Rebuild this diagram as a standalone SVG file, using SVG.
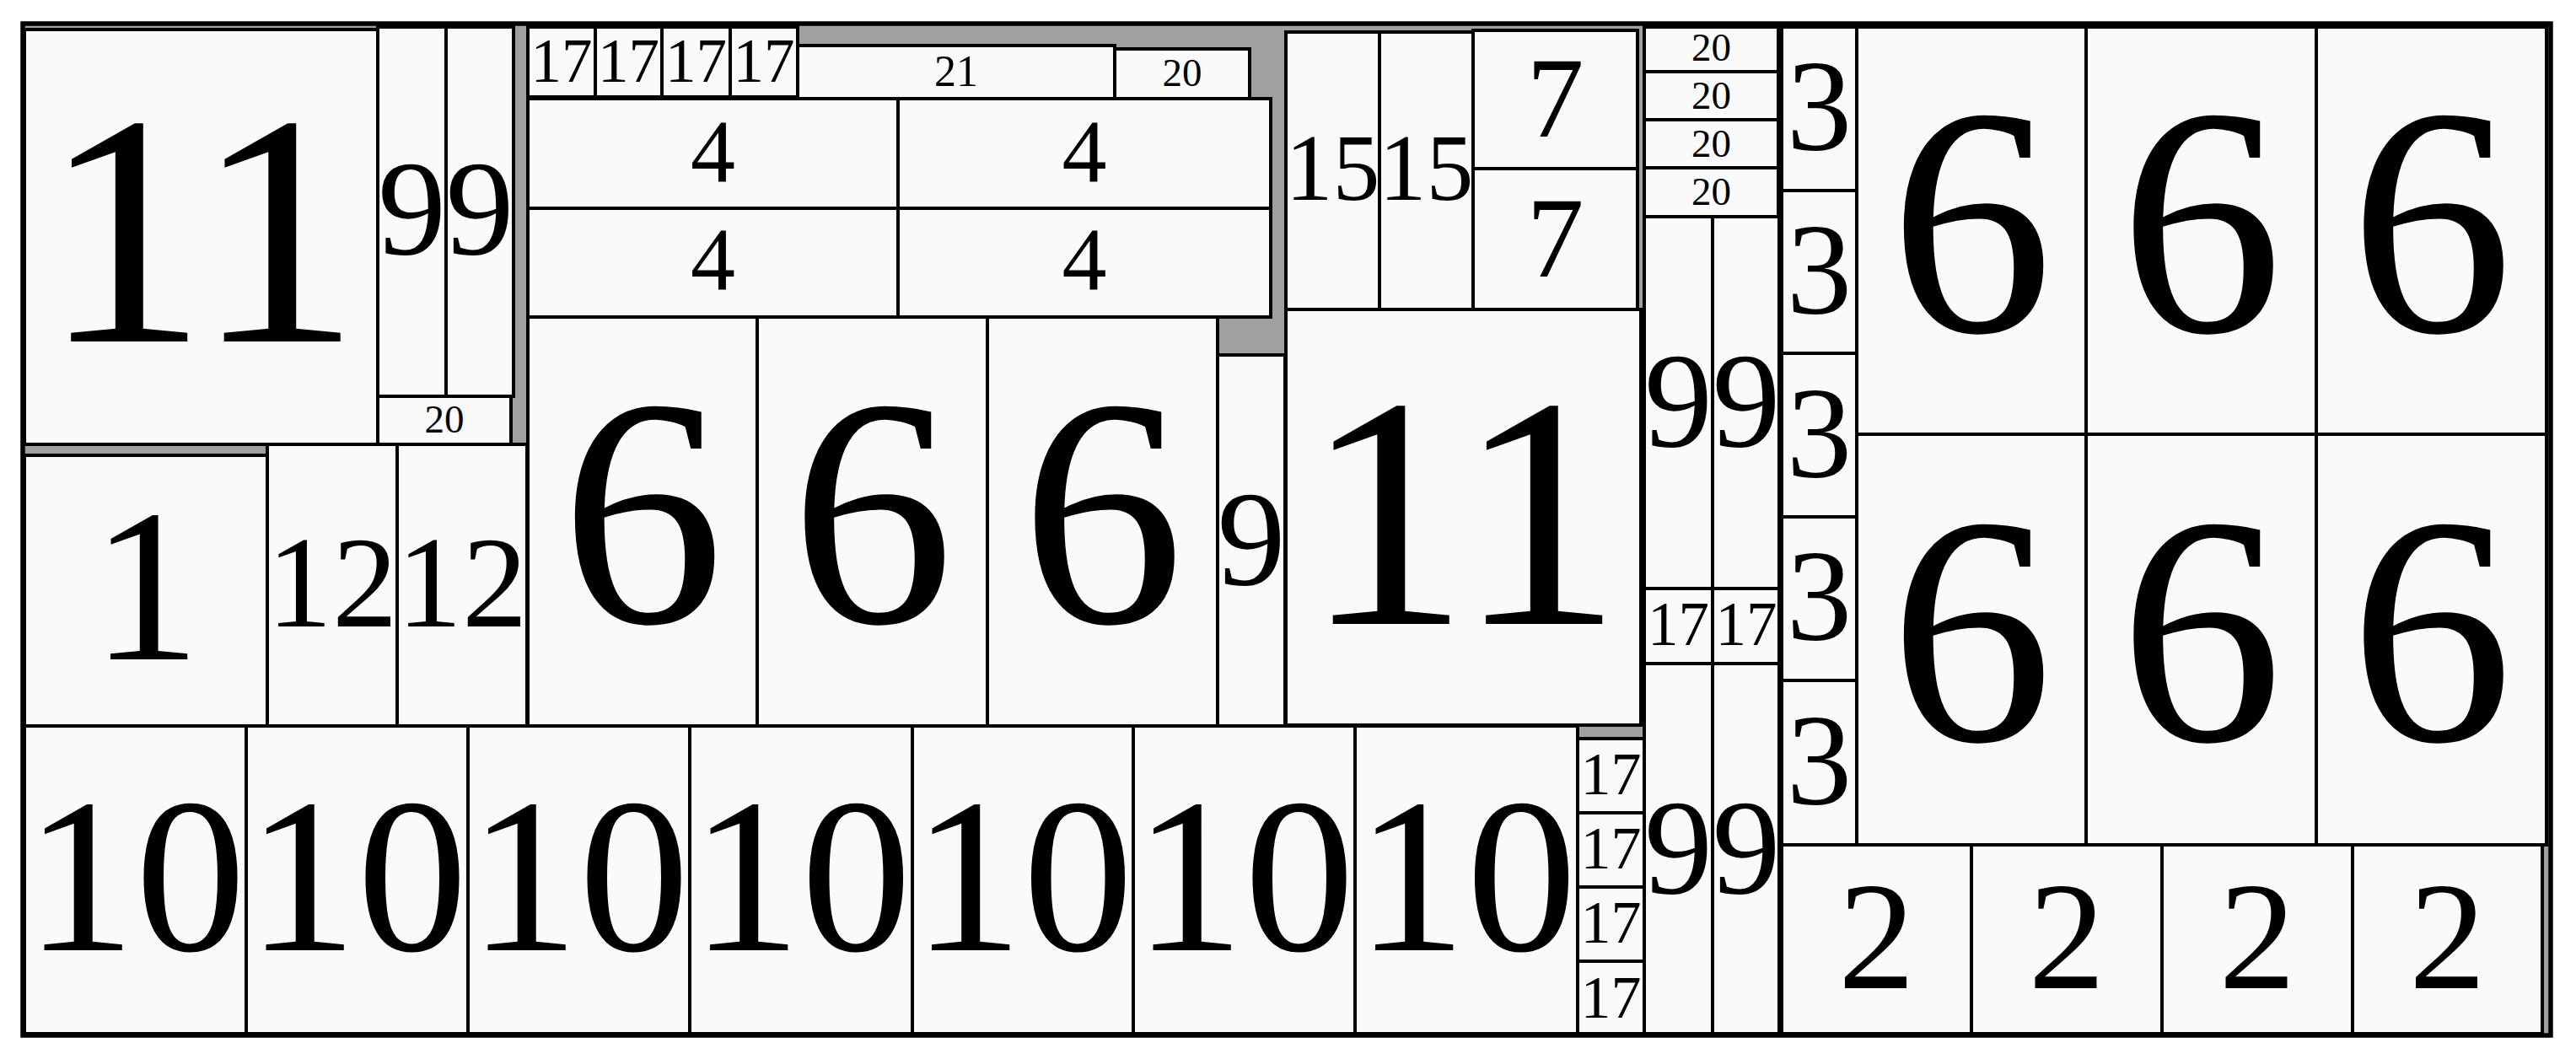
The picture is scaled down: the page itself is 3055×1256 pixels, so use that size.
<svg xmlns="http://www.w3.org/2000/svg" width="3055" height="1256" viewBox="0 0 3055 1256">
<style>
.n rect{fill:#fafafa;stroke:#000;stroke-width:4}
.n text{text-anchor:middle;fill:#000}
.bin{fill:#a0a0a0;stroke:#000;stroke-width:5}
</style>
<rect width="3055" height="1256" fill="#ffffff"/>
<rect id="bin" class="bin" x="27" y="28" width="2998" height="1200"/>
<g id="connectors"></g>
<g id="nodes" font-family="Liberation Serif, Times New Roman, Times, serif">
<g id="n11a" class="n"><rect x="29" y="35" width="419" height="492"/><text x="238.5" y="405" font-size="392">11</text></g>
<g id="n9a" class="n"><rect x="448" y="32" width="81" height="438"/><text x="488.5" y="301" font-size="162">9</text></g>
<g id="n9b" class="n"><rect x="529" y="32" width="80" height="438"/><text x="569" y="301" font-size="162">9</text></g>
<g id="n20a" class="n"><rect x="448" y="470" width="158" height="57"/><text x="527" y="513" font-size="47">20</text></g>
<g id="n17a" class="n"><rect x="626" y="32" width="80" height="83"/><text x="666" y="97" font-size="73">17</text></g>
<g id="n17b" class="n"><rect x="706" y="32" width="79" height="83"/><text x="745.5" y="97" font-size="73">17</text></g>
<g id="n17c" class="n"><rect x="785" y="32" width="81" height="83"/><text x="825.5" y="97" font-size="73">17</text></g>
<g id="n17d" class="n"><rect x="866" y="32" width="80" height="83"/><text x="906" y="97" font-size="73">17</text></g>
<g id="n21" class="n"><rect x="946" y="54" width="376" height="63"/><text x="1134" y="102" font-size="52">21</text></g>
<g id="n20b" class="n"><rect x="1322" y="58" width="160" height="59"/><text x="1402" y="102" font-size="47">20</text></g>
<g id="n4a" class="n"><rect x="626" y="117" width="439" height="130"/><text x="845.5" y="215" font-size="106">4</text></g>
<g id="n4b" class="n"><rect x="1065" y="117" width="442" height="130"/><text x="1286" y="215" font-size="106">4</text></g>
<g id="n4c" class="n"><rect x="626" y="247" width="439" height="129"/><text x="845.5" y="343" font-size="106">4</text></g>
<g id="n4d" class="n"><rect x="1065" y="247" width="442" height="129"/><text x="1286" y="343" font-size="106">4</text></g>
<g id="n6a" class="n"><rect x="626" y="376" width="272" height="485"/><text x="762" y="738" font-size="387">6</text></g>
<g id="n6b" class="n"><rect x="898" y="376" width="273" height="485"/><text x="1034.5" y="738" font-size="387">6</text></g>
<g id="n6c" class="n"><rect x="1171" y="376" width="273" height="485"/><text x="1307.5" y="738" font-size="387">6</text></g>
<g id="n9c" class="n"><rect x="1444" y="421" width="80" height="440"/><text x="1484" y="693" font-size="162">9</text></g>
<g id="n1" class="n"><rect x="29" y="540" width="288" height="321"/><text x="173" y="782" font-size="259">1</text></g>
<g id="n12a" class="n"><rect x="317" y="527" width="154" height="334"/><text x="394" y="743" font-size="155">12</text></g>
<g id="n12b" class="n"><rect x="471" y="527" width="154" height="334"/><text x="548" y="743" font-size="155">12</text></g>
<g id="n10a" class="n"><rect x="29" y="861" width="263" height="365"/><text x="160.5" y="1127" font-size="262">10</text></g>
<g id="n10b" class="n"><rect x="292" y="861" width="263" height="365"/><text x="423.5" y="1127" font-size="262">10</text></g>
<g id="n10c" class="n"><rect x="555" y="861" width="263" height="365"/><text x="686.5" y="1127" font-size="262">10</text></g>
<g id="n10d" class="n"><rect x="818" y="861" width="264" height="365"/><text x="950" y="1127" font-size="262">10</text></g>
<g id="n10e" class="n"><rect x="1082" y="861" width="262" height="365"/><text x="1213" y="1127" font-size="262">10</text></g>
<g id="n10f" class="n"><rect x="1344" y="861" width="263" height="365"/><text x="1475.5" y="1127" font-size="262">10</text></g>
<g id="n10g" class="n"><rect x="1607" y="861" width="264" height="365"/><text x="1739" y="1127" font-size="262">10</text></g>
<g id="n17e" class="n"><rect x="1871" y="876" width="79" height="88"/><text x="1910.5" y="942" font-size="72">17</text></g>
<g id="n17f" class="n"><rect x="1871" y="964" width="79" height="88"/><text x="1910.5" y="1030" font-size="72">17</text></g>
<g id="n17g" class="n"><rect x="1871" y="1052" width="79" height="88"/><text x="1910.5" y="1118" font-size="72">17</text></g>
<g id="n17h" class="n"><rect x="1871" y="1140" width="79" height="86"/><text x="1910.5" y="1207" font-size="72">17</text></g>
<g id="n15a" class="n"><rect x="1525" y="38" width="111" height="329"/><text x="1580.5" y="237" font-size="112">15</text></g>
<g id="n15b" class="n"><rect x="1636" y="38" width="111" height="329"/><text x="1691.5" y="237" font-size="112">15</text></g>
<g id="n7a" class="n"><rect x="1747" y="36" width="195" height="164"/><text x="1844.5" y="162" font-size="136">7</text></g>
<g id="n7b" class="n"><rect x="1747" y="200" width="195" height="167"/><text x="1844.5" y="328" font-size="136">7</text></g>
<g id="n11b" class="n"><rect x="1525" y="367" width="421" height="493"/><text x="1735" y="740" font-size="392">11</text></g>
<g id="n20c" class="n"><rect x="1950" y="32" width="159" height="53"/><text x="2029.5" y="72" font-size="47">20</text></g>
<g id="n20d" class="n"><rect x="1950" y="85" width="159" height="57"/><text x="2029.5" y="129" font-size="47">20</text></g>
<g id="n20e" class="n"><rect x="1950" y="142" width="159" height="57"/><text x="2029.5" y="186" font-size="47">20</text></g>
<g id="n20f" class="n"><rect x="1950" y="199" width="159" height="58"/><text x="2029.5" y="243" font-size="47">20</text></g>
<g id="n9d" class="n"><rect x="1950" y="257" width="81" height="441"/><text x="1990.5" y="529" font-size="162">9</text></g>
<g id="n9e" class="n"><rect x="2031" y="257" width="79" height="441"/><text x="2071" y="529" font-size="162">9</text></g>
<g id="n17i" class="n"><rect x="1950" y="698" width="81" height="89"/><text x="1990.5" y="765" font-size="73">17</text></g>
<g id="n17j" class="n"><rect x="2031" y="698" width="79" height="89"/><text x="2071" y="765" font-size="73">17</text></g>
<g id="n9f" class="n"><rect x="1950" y="787" width="81" height="439"/><text x="1990.5" y="1059" font-size="162">9</text></g>
<g id="n9g" class="n"><rect x="2031" y="787" width="79" height="439"/><text x="2071" y="1059" font-size="162">9</text></g>
<g id="n3a" class="n"><rect x="2113" y="32" width="89" height="194"/><text x="2157.5" y="177" font-size="155">3</text></g>
<g id="n3b" class="n"><rect x="2113" y="226" width="89" height="193"/><text x="2157.5" y="371" font-size="155">3</text></g>
<g id="n3c" class="n"><rect x="2113" y="419" width="89" height="194"/><text x="2157.5" y="565" font-size="155">3</text></g>
<g id="n3d" class="n"><rect x="2113" y="613" width="89" height="194"/><text x="2157.5" y="758" font-size="155">3</text></g>
<g id="n3e" class="n"><rect x="2113" y="807" width="89" height="195"/><text x="2157.5" y="953" font-size="155">3</text></g>
<g id="n6d" class="n"><rect x="2202" y="32" width="272" height="483"/><text x="2338" y="393" font-size="387">6</text></g>
<g id="n6e" class="n"><rect x="2474" y="32" width="273" height="483"/><text x="2610.5" y="393" font-size="387">6</text></g>
<g id="n6f" class="n"><rect x="2747" y="32" width="273" height="483"/><text x="2883.5" y="393" font-size="387">6</text></g>
<g id="n6g" class="n"><rect x="2202" y="515" width="272" height="487"/><text x="2338" y="878" font-size="387">6</text></g>
<g id="n6h" class="n"><rect x="2474" y="515" width="273" height="487"/><text x="2610.5" y="878" font-size="387">6</text></g>
<g id="n6i" class="n"><rect x="2747" y="515" width="273" height="487"/><text x="2883.5" y="878" font-size="387">6</text></g>
<g id="n2a" class="n"><rect x="2113" y="1002" width="225" height="224"/><text x="2225.5" y="1172" font-size="182">2</text></g>
<g id="n2b" class="n"><rect x="2338" y="1002" width="226" height="224"/><text x="2451" y="1172" font-size="182">2</text></g>
<g id="n2c" class="n"><rect x="2564" y="1002" width="226" height="224"/><text x="2677" y="1172" font-size="182">2</text></g>
<g id="n2d" class="n"><rect x="2790" y="1002" width="225" height="224"/><text x="2902.5" y="1172" font-size="182">2</text></g>
</g>
<rect x="27" y="28" width="2998" height="1200" fill="none" stroke="#000" stroke-width="5"/>
</svg>
